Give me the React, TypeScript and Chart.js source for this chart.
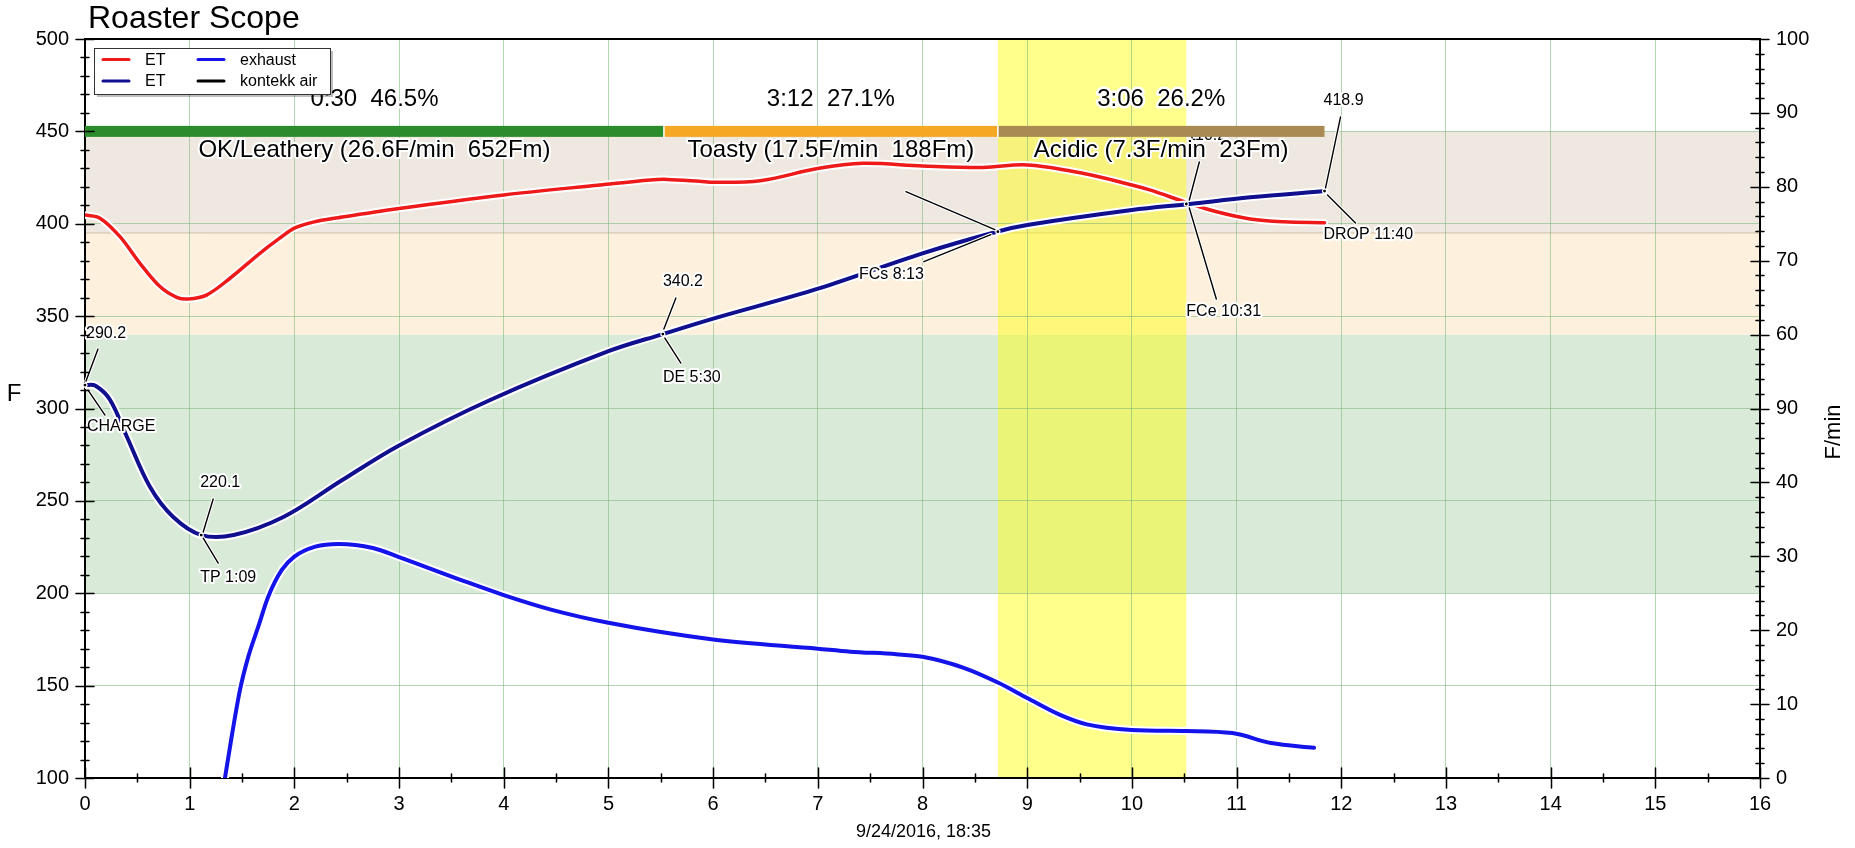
import React, { useEffect, useRef } from 'react';
import { Chart, registerables } from 'chart.js';

Chart.register(...registerables);

const FONT = '"Liberation Sans", Arial, Helvetica, sans-serif';

// ---- data (minutes / degrees F) ----
const etTime = [0, 0.143, 0.334, 0.525, 0.716, 0.876, 0.987, 1.16, 1.385, 1.67, 1.86, 2.0, 2.18, 2.42, 3.0, 4.0, 4.92, 5.4, 5.56, 5.87, 6.01, 6.45, 7.01, 7.43, 8.0, 8.58, 9.0, 9.53, 10.0, 10.17, 10.55, 10.81, 11.13, 11.45, 11.84];
const etTemp = [404.7, 403, 393, 378.6, 366, 360.2, 359.3, 361.4, 370.5, 384, 392.2, 397.6, 400.9, 403.3, 408.3, 415.6, 421, 423.7, 424, 423, 422.4, 423.3, 430, 432.7, 431.3, 430.5, 431.8, 427.3, 421, 418.3, 411, 406.5, 402.6, 401.1, 400.6];

const btTime = [0, 0.1, 0.24, 0.4, 0.62, 0.84, 1.11, 1.42, 1.9, 2.45, 3.0, 3.87, 5.0, 5.52, 6.01, 7.01, 8.0, 8.71, 9.0, 10.0, 10.55, 11.13, 11.84];
const btTemp = [312.7, 312.3, 304.6, 284.7, 257.6, 241.4, 231.5, 231.5, 241.4, 261, 280, 304.6, 331, 340.3, 348.8, 365, 384, 395.7, 399.3, 407.4, 410.7, 414.3, 417.7];

const exTime = [1.337, 1.401, 1.48, 1.56, 1.655, 1.75, 1.88, 2.0, 2.2, 2.42, 2.75, 3.0, 3.6, 4.0, 4.46, 5.0, 6.0, 7.0, 7.31, 7.75, 8.0, 8.4, 8.73, 9.0, 9.32, 9.57, 10.0, 10.52, 10.96, 11.33, 11.74];
const exTemp = [100, 122.4, 147.6, 165.7, 181.9, 198.1, 212.6, 219.8, 225.2, 226.7, 224.5, 219.6, 207, 199, 191, 184, 175, 170, 168.4, 167, 165.6, 159.5, 151.4, 143.3, 134, 129, 126, 125.4, 124.3, 118.9, 116.4];

const rightTickLabels = ['0', '10', '20', '30', '40', '90', '60', '70', '80', '90', '100'];

const phaseEdges = [0, 5.53, 8.72, 11.84];
const phaseLevel = 450;
const phaseTimes = ['0:30  46.5%', '3:12  27.1%', '3:06  26.2%'];
const phaseNames = ['OK/Leathery (26.6F/min  652Fm)', 'Toasty (17.5F/min  188Fm)', 'Acidic (7.3F/min  23Fm)'];

const bandEdges = [200, 340, 395, 450];
const developBand = [8.72, 10.52];

const eventTime = [0, 1.11, 5.52, 8.72, 10.52, 11.84];
const eventTemp = [312.7, 231.5, 340.3, 395.7, 410.7, 417.7];
const eventTop = ['290.2', '220.1', '340.2', '', '110.2', '418.9'];
const eventBottom = ['CHARGE', 'TP 1:09', 'DE 5:30', 'FCs 8:13', 'FCe 10:31', 'DROP 11:40'];

const legendLabels = ['ET', 'ET', 'exhaust', 'kontekk air'];

const titleText = 'Roaster Scope';
const leftTitle = 'F';
const rightTitle = 'F/min';
const dateText = '9/24/2016, 18:35';

// ---- styles ----
const RED = '#ee1a1a';
const NAVY = '#10108f';
const BLUE = '#1414ea';
const GRID = 'rgba(120,180,120,0.55)';
const bandColors = ['#d9ebd8', '#fdf1dd', '#efe8e0'];
const phaseColors = ['#2a8c2a', '#f5a823', '#a98a52'];
const legendColors = [RED, NAVY, BLUE, '#000000'];

type Off = [number, number, number, number];
const eventLayout: { up: Off; upLabel: [number, number, CanvasTextAlign] | null; down: Off; downLabel: [number, number, CanvasTextAlign] }[] = [
  { up: [1, -4, 13, -36], upLabel: [1, -51, 'left'], down: [3, 5, 20, 30], downLabel: [2, 42, 'left'] },
  { up: [2, -3, 12, -36], upLabel: [-1, -52, 'left'], down: [2, 3, 17, 28], downLabel: [-1, 43, 'left'] },
  { up: [1, -5, 13, -36], upLabel: [0, -52, 'left'], down: [2, 4, 18, 29], downLabel: [0, 44, 'left'] },
  { up: [-3, -2, -92, -40], upLabel: null, down: [-7, 3, -74, 30], downLabel: [-74, 43, 'right'] },
  { up: [3, -4, 13, -42], upLabel: [1, -68, 'left'], down: [3, 4, 30, 95], downLabel: [0, 108, 'left'] },
  { up: [1, -3, 16, -74], upLabel: [-1, -90, 'left'], down: [3, 4, 31, 32], downLabel: [-1, 44, 'left'] },
];

function pts(xs: number[], ys: number[]) {
  return xs.map((x, i) => ({ x, y: ys[i] }));
}

function haloText(ctx: CanvasRenderingContext2D, text: string, x: number, y: number, font: string, align: CanvasTextAlign, halo = 4) {
  ctx.save();
  ctx.font = font;
  ctx.textAlign = align;
  ctx.textBaseline = 'middle';
  ctx.lineJoin = 'round';
  ctx.lineWidth = halo;
  ctx.strokeStyle = '#ffffff';
  ctx.strokeText(text, x, y);
  ctx.fillStyle = '#000000';
  ctx.fillText(text, x, y);
  ctx.restore();
}

const roastPlugin = {
  id: 'roast',
  beforeDraw(chart: any) {
    const { ctx, chartArea: a, scales } = chart;
    const x = scales.x, y = scales.y;
    ctx.save();
    ctx.fillStyle = '#ffffff';
    ctx.fillRect(0, 0, chart.width, chart.height);
    for (let i = 0; i < bandColors.length; i++) {
      const y0 = y.getPixelForValue(bandEdges[i + 1]);
      const y1 = y.getPixelForValue(bandEdges[i]);
      ctx.fillStyle = bandColors[i];
      ctx.fillRect(a.left, y0, a.right - a.left, y1 - y0);
    }
    ctx.strokeStyle = 'rgba(190,160,130,0.6)';
    ctx.lineWidth = 1;
    ctx.beginPath();
    const yb = y.getPixelForValue(bandEdges[2]);
    ctx.moveTo(a.left, yb);
    ctx.lineTo(a.right, yb);
    ctx.stroke();
    const x0 = x.getPixelForValue(developBand[0]);
    const x1 = x.getPixelForValue(developBand[1]);
    ctx.fillStyle = 'rgba(255,255,0,0.45)';
    ctx.fillRect(x0, a.top, x1 - x0, a.bottom - a.top);
    ctx.restore();
  },
  afterDatasetsDraw(chart: any) {
    const { ctx, chartArea: a, scales } = chart;
    const x = scales.x, y = scales.y, y2 = scales.y2;
    ctx.save();

    // event annotations
    const f16 = `16px ${FONT}`;
    eventTime.forEach((t, i) => {
      const px = x.getPixelForValue(t);
      const py = y.getPixelForValue(eventTemp[i]);
      const L = eventLayout[i];
      [L.up, L.down].forEach((s) => {
        ctx.lineCap = 'round';
        ctx.strokeStyle = '#ffffff';
        ctx.lineWidth = 3.5;
        ctx.beginPath();
        ctx.moveTo(px + s[0], py + s[1]);
        ctx.lineTo(px + s[2], py + s[3]);
        ctx.stroke();
        ctx.strokeStyle = '#000000';
        ctx.lineWidth = 1.4;
        ctx.beginPath();
        ctx.moveTo(px + s[0], py + s[1]);
        ctx.lineTo(px + s[2], py + s[3]);
        ctx.stroke();
      });
      ctx.fillStyle = '#ffffff';
      ctx.beginPath();
      ctx.arc(px, py, 2.6, 0, Math.PI * 2);
      ctx.fill();
      ctx.fillStyle = '#000000';
      ctx.beginPath();
      ctx.arc(px, py, 1.4, 0, Math.PI * 2);
      ctx.fill();
      if (L.upLabel && eventTop[i]) haloText(ctx, eventTop[i], px + L.upLabel[0], py + L.upLabel[1], f16, L.upLabel[2]);
      haloText(ctx, eventBottom[i], px + L.downLabel[0], py + L.downLabel[1], f16, L.downLabel[2]);
    });

    // phase bar
    const by = y.getPixelForValue(phaseLevel);
    for (let i = 0; i < phaseColors.length; i++) {
      const xa = x.getPixelForValue(phaseEdges[i]);
      const xb = x.getPixelForValue(phaseEdges[i + 1]);
      ctx.fillStyle = phaseColors[i];
      ctx.fillRect(xa, by - 5.5, xb - xa, 11);
      if (i > 0) {
        ctx.strokeStyle = '#ffffff';
        ctx.lineWidth = 1.5;
        ctx.beginPath();
        ctx.moveTo(xa, by - 5.5);
        ctx.lineTo(xa, by + 5.5);
        ctx.stroke();
      }
    }
    const f24 = `24px ${FONT}`;
    for (let i = 0; i < phaseNames.length; i++) {
      const cx = (x.getPixelForValue(phaseEdges[i]) + x.getPixelForValue(phaseEdges[i + 1])) / 2;
      haloText(ctx, phaseTimes[i], cx, by - 32, f24, 'center', 5);
      haloText(ctx, phaseNames[i], cx, by + 19, f24, 'center', 4);
    }

    // legend
    const lx = 94, ly = 48, lw = 236, lh = 46;
    ctx.fillStyle = 'rgba(0,0,0,0.25)';
    ctx.fillRect(lx + 3, ly + 3, lw, lh);
    ctx.fillStyle = '#ffffff';
    ctx.fillRect(lx, ly, lw, lh);
    ctx.strokeStyle = '#333333';
    ctx.lineWidth = 1;
    ctx.strokeRect(lx + 0.5, ly + 0.5, lw, lh);
    const rows = [59.5, 81];
    const cols = [103, 198];
    legendLabels.forEach((lab, i) => {
      const c = Math.floor(i / 2), r = i % 2;
      ctx.strokeStyle = legendColors[i];
      ctx.lineWidth = 3;
      ctx.beginPath();
      ctx.moveTo(cols[c], rows[r]);
      ctx.lineTo(cols[c] + 26, rows[r]);
      ctx.stroke();
      ctx.fillStyle = '#000000';
      ctx.font = `16px ${FONT}`;
      ctx.textAlign = 'left';
      ctx.textBaseline = 'middle';
      ctx.fillText(lab, cols[c] + 42, rows[r] + 1);
    });

    // tick marks crossing the axes + frame
    ctx.strokeStyle = '#000000';
    ctx.lineWidth = 1.5;
    ctx.beginPath();
    for (let v = 100; v <= 500; v += 10) {
      const len = v % 50 === 0 ? 9 : 4;
      const p = Math.round(y.getPixelForValue(v)) + 0.5;
      ctx.moveTo(a.left - len, p);
      ctx.lineTo(a.left + len, p);
    }
    for (let v = 0; v <= 100; v += 2) {
      const len = v % 10 === 0 ? 9 : 4;
      const p = Math.round(y2.getPixelForValue(v)) + 0.5;
      ctx.moveTo(a.right - len, p);
      ctx.lineTo(a.right + len, p);
    }
    for (let v = 0; v <= 16; v += 0.5) {
      const len = v % 1 === 0 ? 10 : 4;
      const p = Math.round(x.getPixelForValue(v)) + 0.5;
      ctx.moveTo(p, a.bottom - len);
      ctx.lineTo(p, a.bottom + len);
    }
    ctx.stroke();
    ctx.lineWidth = 2;
    ctx.beginPath();
    ctx.moveTo(a.left, a.top);
    ctx.lineTo(a.right, a.top);
    ctx.stroke();
    ctx.restore();
  },
  afterDraw(chart: any) {
    const { ctx, chartArea: a } = chart;
    ctx.save();
    ctx.fillStyle = '#000000';
    ctx.textBaseline = 'middle';
    ctx.font = `32px ${FONT}`;
    ctx.textAlign = 'left';
    ctx.fillText(titleText, 88, 19);
    ctx.font = `24px ${FONT}`;
    ctx.textAlign = 'center';
    ctx.fillText(leftTitle, 14, 394);
    ctx.font = `18px ${FONT}`;
    ctx.fillText(dateText, (a.left + a.right) / 2 + 1, 832);
    ctx.translate(1834, 432);
    ctx.rotate(-Math.PI / 2);
    ctx.font = `22px ${FONT}`;
    ctx.fillText(rightTitle, 0, 0);
    ctx.restore();
  },
};

export default function App() {
  const ref = useRef<HTMLCanvasElement | null>(null);
  useEffect(() => {
    document.body.style.margin = '0';
    if (!ref.current) return;
    const line = (data: any[], color: string, width: number, order: number, mono = false) => ({
      type: 'line' as const,
      data,
      borderColor: color,
      borderWidth: width,
      pointRadius: 0,
      fill: false,
      tension: 0.35,
      cubicInterpolationMode: mono ? ('monotone' as const) : ('default' as const),
      yAxisID: 'y',
      order,
      borderCapStyle: 'round' as const,
      borderJoinStyle: 'round' as const,
    });
    const et = pts(etTime, etTemp);
    const bt = pts(btTime, btTemp);
    const ex = pts(exTime, exTemp);
    const chart = new Chart(ref.current, {
      type: 'line',
      data: {
        datasets: [
          line(bt, NAVY, 4, 1),
          line(bt, '#ffffff', 8, 1.5),
          line(et, RED, 3.5, 2),
          line(et, '#ffffff', 7.5, 2.5),
          line(ex, BLUE, 4, 3, true),
          line(ex, '#ffffff', 8, 3.5, true),
        ],
      },
      options: {
        animation: false,
        responsive: false,
        devicePixelRatio: 1,
        parsing: false as any,
        layout: { padding: { top: 39, left: 0, right: 0, bottom: 0 } },
        plugins: { legend: { display: false }, tooltip: { enabled: false }, title: { display: false } },
        scales: {
          x: {
            type: 'linear',
            min: 0,
            max: 16,
            ticks: { stepSize: 1, color: '#000', font: { family: FONT, size: 20 }, padding: 14 },
            grid: { color: GRID, drawTicks: false, lineWidth: 1 },
            border: { display: true, color: '#000', width: 2 },
            afterFit: (s: any) => { s.height = 70; },
          },
          y: {
            type: 'linear',
            position: 'left',
            min: 100,
            max: 500,
            ticks: { stepSize: 50, color: '#000', font: { family: FONT, size: 20 }, padding: 16 },
            grid: { color: GRID, drawTicks: false, lineWidth: 1 },
            border: { display: true, color: '#000', width: 2 },
            afterFit: (s: any) => { s.width = 85; },
          },
          y2: {
            type: 'linear',
            position: 'right',
            min: 0,
            max: 100,
            ticks: {
              stepSize: 10,
              color: '#000',
              font: { family: FONT, size: 20 },
              padding: 16,
              callback: (_v: any, i: number) => rightTickLabels[i],
            },
            grid: { drawOnChartArea: false, drawTicks: false },
            border: { display: true, color: '#000', width: 2 },
            afterFit: (s: any) => { s.width = 95; },
          },
        },
      },
      plugins: [roastPlugin],
    } as any);
    return () => chart.destroy();
  }, []);
  return (
    <div style={{ width: 1855, height: 848, position: 'relative' }}>
      <canvas ref={ref} width={1855} height={848} style={{ display: 'block' }} />
    </div>
  );
}
